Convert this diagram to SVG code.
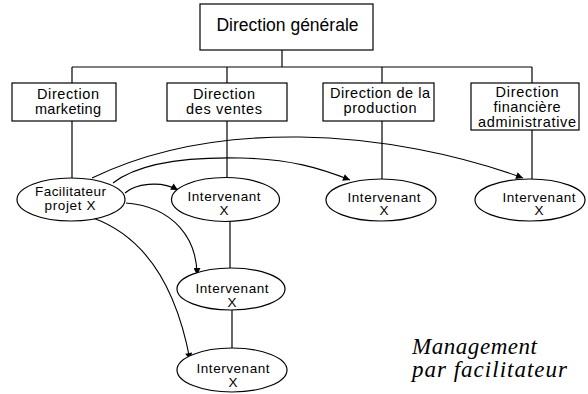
<svg xmlns="http://www.w3.org/2000/svg" width="588" height="394" viewBox="0 0 588 394">
<style>
.box{fill:#fff;stroke:#000;stroke-width:1.2}
.ell{fill:#fff;stroke:#000;stroke-width:1.2}
.ln{fill:none;stroke:#000;stroke-width:1.2}
.arr{fill:none;stroke:#000;stroke-width:1.1;marker-end:url(#ah)}
.t{font-family:"Liberation Sans",Arial,sans-serif;font-size:14.5px;fill:#000;text-anchor:middle}
.te{font-family:"Liberation Sans",Arial,sans-serif;font-size:13.5px;fill:#000;text-anchor:middle}
.tt{font-family:"Liberation Sans",Arial,sans-serif;font-size:17.5px;fill:#000;text-anchor:middle}
.it{font-family:"Liberation Serif","Times New Roman",serif;font-style:italic;font-size:23px;fill:#000}
</style>
<defs>
<marker id="ah" markerUnits="userSpaceOnUse" viewBox="0 0 10 10" refX="10" refY="5" markerWidth="9" markerHeight="7" orient="auto">
<path d="M0,0 L10,5 L0,10 z" fill="#000"/>
</marker>
</defs>
<g id="connectors">
<line class="ln" x1="282" y1="50" x2="282" y2="67"/>
<line class="ln" x1="72" y1="67" x2="532" y2="67"/>
<line class="ln" x1="72" y1="67" x2="72" y2="83"/>
<line class="ln" x1="227" y1="67" x2="227" y2="83"/>
<line class="ln" x1="382" y1="67" x2="382" y2="83"/>
<line class="ln" x1="532" y1="67" x2="532" y2="83"/>
<line class="ln" x1="72" y1="121" x2="72" y2="178"/>
<line class="ln" x1="227" y1="121" x2="227" y2="177.5"/>
<line class="ln" x1="382" y1="121" x2="382" y2="179"/>
<line class="ln" x1="532" y1="130" x2="532" y2="179"/>
<line class="ln" x1="230" y1="221" x2="230" y2="268"/>
<line class="ln" x1="232" y1="310" x2="232" y2="348"/>
<path class="arr" d="M92,178 C150,150 220,136 300,137 C380,138 460,155 523,178"/>
<path class="arr" d="M113,183 C140,162 190,157 240,158 C290,159 320,168 350,180"/>
<path class="arr" d="M125,193 C135,184 160,180 178,190"/>
<path class="arr" d="M126,203 C175,207 197,240 197,275"/>
<path class="arr" d="M93,218 C140,235 175,280 190,360"/>
</g>
<g id="dg">
<rect class="box" x="200" y="4" width="173" height="46"/>
<text class="tt" x="287.5" y="31">Direction générale</text>
</g>
<g id="dm">
<rect class="box" x="12" y="83" width="104" height="38"/>
<text class="t" x="68" y="98.5" textLength="62">Direction</text>
<text class="t" x="68" y="113.5" textLength="66">marketing</text>
</g>
<g id="dv">
<rect class="box" x="167" y="83" width="120" height="38"/>
<text class="t" x="224" y="98.5" textLength="62">Direction</text>
<text class="t" x="224" y="113.5" textLength="76">des ventes</text>
</g>
<g id="dp">
<rect class="box" x="323" y="83" width="111" height="38"/>
<text class="t" x="380" y="98" textLength="100">Direction de la</text>
<text class="t" x="380" y="113" textLength="73">production</text>
</g>
<g id="df">
<rect class="box" x="471" y="83" width="108" height="47"/>
<text class="t" x="527" y="97" textLength="63">Direction</text>
<text class="t" x="527" y="112" textLength="67">financière</text>
<text class="t" x="527" y="127" textLength="98">administrative</text>
</g>
<g id="fac">
<ellipse class="ell" cx="71" cy="199.5" rx="54" ry="21.5"/>
<text class="te" x="70.5" y="196" textLength="71">Facilitateur</text>
<text class="te" x="70" y="210" textLength="51">projet X</text>
</g>
<g id="i1">
<ellipse class="ell" cx="225.5" cy="199.5" rx="54" ry="22"/>
<text class="te" x="224" y="201" textLength="73">Intervenant</text>
<text class="te" x="224" y="215">X</text>
</g>
<g id="i2">
<ellipse class="ell" cx="231" cy="289" rx="54" ry="21"/>
<text class="te" x="232" y="293" textLength="73">Intervenant</text>
<text class="te" x="232" y="307">X</text>
</g>
<g id="i3">
<ellipse class="ell" cx="232" cy="370" rx="55" ry="22"/>
<text class="te" x="233" y="373" textLength="73">Intervenant</text>
<text class="te" x="233" y="387">X</text>
</g>
<g id="ip">
<ellipse class="ell" cx="381" cy="200" rx="55" ry="21"/>
<text class="te" x="384" y="201.5" textLength="73">Intervenant</text>
<text class="te" x="384" y="215">X</text>
</g>
<g id="if">
<ellipse class="ell" cx="530" cy="200" rx="55" ry="21"/>
<text class="te" x="539" y="201.5" textLength="73">Intervenant</text>
<text class="te" x="539" y="215">X</text>
</g>
<g id="caption">
<text class="it" x="412" y="354" textLength="125" lengthAdjust="spacing">Management</text>
<text class="it" x="412" y="377" textLength="155" lengthAdjust="spacing">par facilitateur</text>
</g>
</svg>
